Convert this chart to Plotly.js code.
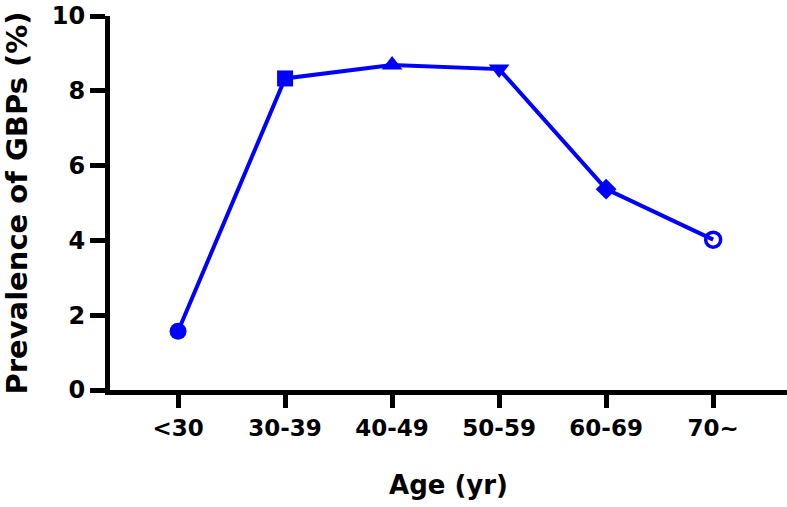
<!DOCTYPE html>
<html>
<head>
<meta charset="utf-8">
<script src="https://cdn.plot.ly/plotly-3.0.1.min.js"></script>
<style>
html,body{margin:0;padding:0;background:#fff;}
#chart{width:787px;height:507px;}
</style>
</head>
<body>
<div id="chart"></div>
<script>
const ageGroups = ["<30", "30-39", "40-49", "50-59", "60-69", "70~"];
const prevalence = [1.57, 8.33, 8.69, 8.58, 5.37, 4.02];
const markerSymbols = ["circle", "square", "triangle-up", "triangle-down", "diamond", "circle-open"];
const yTicks = [0, 2, 4, 6, 8, 10];

const blue = "#0000FF";
const fontFam = "DejaVu Sans, Arial, sans-serif";

const trace = {
  x: ageGroups.map((_, i) => i),
  y: prevalence,
  type: "scatter",
  mode: "lines+markers",
  opacity: 1,
  line: {color: blue, width: 4},
  marker: {
    symbol: markerSymbols,
    size: [17, 16, 18, 18, 16, 15],
    color: blue,
    opacity: 1,
    line: {color: blue, width: [0, 0, 0, 0, 0, 3.5]}
  },
  hoverinfo: "skip",
  cliponaxis: false
};

const layout = {
  width: 787,
  height: 507,
  margin: {l: 110, r: 0, t: 16, b: 117},
  paper_bgcolor: "#fff",
  plot_bgcolor: "#fff",
  showlegend: false,
  font: {family: fontFam, color: "#000"},
  xaxis: {
    range: [-0.636, 5.69],
    tickmode: "array",
    tickvals: ageGroups.map((_, i) => i),
    ticktext: ageGroups,
    showgrid: false,
    zeroline: false,
    showline: true,
    linecolor: "#000",
    linewidth: 5,
    ticks: "outside",
    ticklen: 13,
    tickwidth: 5,
    tickcolor: "#000",
    tickfont: {family: fontFam, size: 23, color: "#000", weight: "bold"},
    title: {text: "<b>Age (yr)</b>", font: {family: fontFam, size: 26, color: "#000"}, standoff: 38},
    fixedrange: true
  },
  yaxis: {
    range: [-0.0001, 10.0001],
    tickmode: "array",
    tickvals: yTicks,
    ticktext: yTicks.map(String),
    showgrid: false,
    zeroline: false,
    showline: true,
    linecolor: "#000",
    linewidth: 5,
    ticks: "outside",
    ticklen: 15,
    tickwidth: 5,
    tickcolor: "#000",
    ticklabeloverflow: "allow",
    tickfont: {family: fontFam, size: 24, color: "#000", weight: "bold"},
    title: {text: "<b>Prevalence of GBPs (%)</b>", font: {family: fontFam, size: 29, color: "#000"}, standoff: 30},
    fixedrange: true
  }
};

Plotly.newPlot("chart", [trace], layout, {staticPlot: true, displayModeBar: false});
</script>
</body>
</html>
